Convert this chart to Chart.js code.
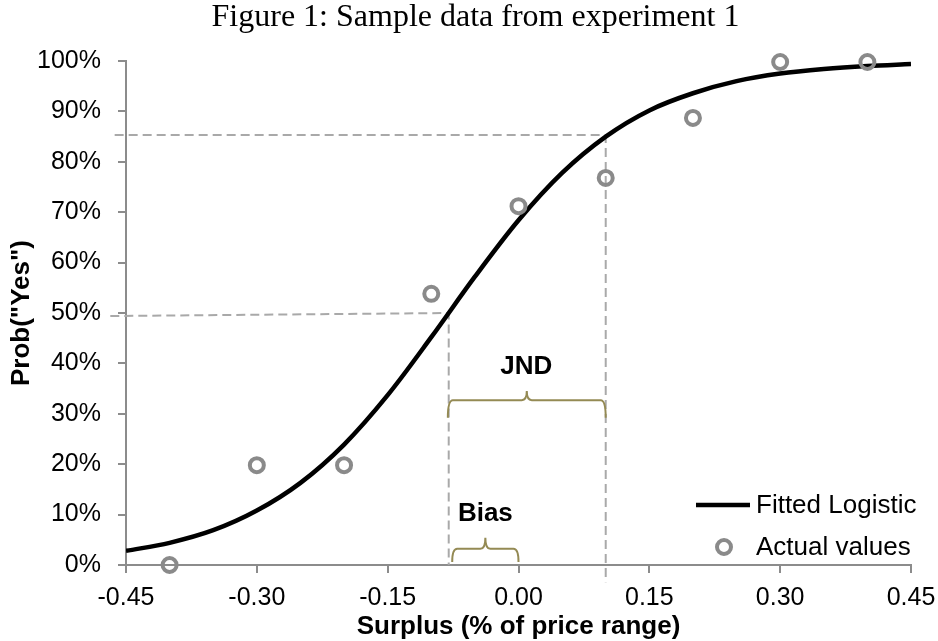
<!DOCTYPE html>
<html>
<head>
<meta charset="utf-8">
<script src="https://cdn.jsdelivr.net/npm/chart.js@4/dist/chart.umd.min.js"></script>
<style>
  html, body { margin: 0; padding: 0; background: #fff; overflow: hidden; }
  #wrap { position: relative; width: 938px; height: 641px; }
  #fig-title {
    position: absolute; left: 0; top: 0; width: 951px;
    text-align: center; font: 32px/30px "Liberation Serif", "Times New Roman", serif;
    color: #000; white-space: nowrap;
  }
  #chart { position: absolute; left: 0; top: 0; }
</style>
</head>
<body>
<div id="wrap">
  <canvas id="chart" width="938" height="641"></canvas>
  <div id="fig-title">Figure 1: Sample data from experiment 1</div>
</div>
<script>
// observed proportions
const POINTS_X = [-0.40, -0.30, -0.20, -0.10, 0.00, 0.10, 0.20, 0.30, 0.40];
const POINTS_Y = [0, 19.8, 19.8, 53.8, 71.2, 76.8, 88.7, 99.8, 99.8];

// fitted logistic
const CURVE_X = [-0.45, -0.40, -0.35, -0.30, -0.25, -0.20, -0.15, -0.10, -0.05, 0.00,
  0.05, 0.10, 0.15, 0.20, 0.25, 0.30, 0.35, 0.40, 0.45];
const CURVE_Y = [2.8, 4.4, 6.9, 10.8, 16.3, 23.9, 33.7, 45.2, 57.2, 68.4,
  77.8, 85.0, 90.2, 93.6, 96.0, 97.5, 98.4, 99.0, 99.4];

// dashed guides (50% point and 85% point)
const GUIDE50_X = [-0.468, -0.08, -0.08];
const GUIDE50_Y = [49.4, 50.0, 0];
const GUIDE85_X = [-0.463, 0.10, 0.10];
const GUIDE85_Y = [85.3, 85.3, -3.4];

// braces: [xStart, xEnd, yLine, yEnds, yTip]
const BRACE_JND = [-0.081, 0.100, 32.7, 29.2, 34.5];
const BRACE_BIAS = [-0.076, 0.000, 3.2, 0.6, 5.4];
const LABEL_JND = { text: "JND", x: 0.009, y: 39.3 };
const LABEL_BIAS = { text: "Bias", x: -0.038, y: 10.1 };

const X_TICKS = [-0.45, -0.30, -0.15, 0.00, 0.15, 0.30, 0.45];
const Y_TICKS = [0, 10, 20, 30, 40, 50, 60, 70, 80, 90, 100];

const AXIS_COLOR = "#8c8c8c";
const POINT_COLOR = "#8a8a8a";
const GUIDE_COLOR = "#a9a9a9";
const BRACE_COLOR = "#948a54";

Chart.defaults.font.family = '"Liberation Sans", Arial, sans-serif';
Chart.defaults.color = "#000";

function zip(xs, ys) {
  return xs.map((x, i) => ({ x, y: ys[i] }));
}

function drawBrace(ctx, chart, b) {
  const xs = chart.scales.x, ys = chart.scales.y;
  const x1 = xs.getPixelForValue(b[0]);
  const x2 = xs.getPixelForValue(b[1]);
  const xm = (x1 + x2) / 2;
  const yl = ys.getPixelForValue(b[2]);
  const ye = ys.getPixelForValue(b[3]);
  const yt = ys.getPixelForValue(b[4]);
  const r = 5;
  ctx.beginPath();
  ctx.moveTo(x1, ye);
  ctx.quadraticCurveTo(x1, yl, x1 + r, yl);
  ctx.lineTo(xm - r, yl);
  ctx.quadraticCurveTo(xm, yl, xm, yt);
  ctx.quadraticCurveTo(xm, yl, xm + r, yl);
  ctx.lineTo(x2 - r, yl);
  ctx.quadraticCurveTo(x2, yl, x2, ye);
  ctx.stroke();
}

const annotations = {
  id: "annotations",
  afterDatasetsDraw(chart) {
    const ctx = chart.ctx;
    ctx.save();
    ctx.strokeStyle = BRACE_COLOR;
    ctx.lineWidth = 2;
    drawBrace(ctx, chart, BRACE_JND);
    drawBrace(ctx, chart, BRACE_BIAS);

    ctx.fillStyle = "#000";
    ctx.font = 'bold 26px "Liberation Sans", Arial, sans-serif';
    ctx.textAlign = "center";
    ctx.textBaseline = "middle";
    [LABEL_JND, LABEL_BIAS].forEach((l) => {
      ctx.fillText(l.text, chart.scales.x.getPixelForValue(l.x), chart.scales.y.getPixelForValue(l.y));
    });

    // legend, bottom right inside the plot
    const a = chart.chartArea;
    const ly1 = a.bottom - 60;
    const ly2 = a.bottom - 18;
    ctx.strokeStyle = "#000";
    ctx.lineWidth = 4.5;
    ctx.beginPath();
    ctx.moveTo(a.right - 215, ly1);
    ctx.lineTo(a.right - 161, ly1);
    ctx.stroke();
    ctx.strokeStyle = POINT_COLOR;
    ctx.lineWidth = 4;
    ctx.beginPath();
    ctx.arc(a.right - 187, ly2, 7, 0, Math.PI * 2);
    ctx.stroke();
    ctx.font = '26px "Liberation Sans", Arial, sans-serif';
    ctx.textAlign = "left";
    ctx.fillText("Fitted Logistic", a.right - 155, ly1 + 1);
    ctx.fillText("Actual values", a.right - 155, ly2 + 1);
    ctx.restore();
  },
};

const ctx = document.getElementById("chart").getContext("2d");
new Chart(ctx, {
  type: "scatter",
  data: {
    datasets: [
      {
        label: "Actual values",
        data: zip(POINTS_X, POINTS_Y),
        pointRadius: 7,
        pointBorderWidth: 4,
        borderColor: POINT_COLOR,
        backgroundColor: "rgba(0,0,0,0)",
        clip: false,
        order: 0,
      },
      {
        label: "Fitted Logistic",
        data: zip(CURVE_X, CURVE_Y),
        showLine: true,
        pointRadius: 0,
        borderColor: "#000",
        borderWidth: 4.5,
        cubicInterpolationMode: "monotone",
        order: 1,
      },
      {
        label: "guide50",
        data: zip(GUIDE50_X, GUIDE50_Y),
        showLine: true,
        pointRadius: 0,
        borderColor: GUIDE_COLOR,
        borderWidth: 2,
        borderDash: [9, 5],
        clip: false,
        order: 2,
      },
      {
        label: "guide85",
        data: zip(GUIDE85_X, GUIDE85_Y),
        showLine: true,
        pointRadius: 0,
        borderColor: GUIDE_COLOR,
        borderWidth: 2,
        borderDash: [9, 5],
        clip: false,
        order: 2,
      },
    ],
  },
  options: {
    responsive: false,
    animation: false,
    layout: { padding: { top: 61, right: 27, left: 0, bottom: 0 } },
    plugins: {
      legend: { display: false },
      tooltip: { enabled: false },
      title: { display: false },
    },
    scales: {
      x: {
        type: "linear",
        min: -0.45,
        max: 0.45,
        afterBuildTicks: (s) => { s.ticks = X_TICKS.map((v) => ({ value: v })); },
        afterFit: (s) => {
          s.height = 76;
          s.paddingLeft = 0;
          s.paddingRight = 0;
        },
        ticks: {
          font: { size: 25 },
          color: "#000",
          padding: 10,
          maxRotation: 0,
          callback: (v) => Number(v).toFixed(2),
        },
        grid: {
          drawOnChartArea: false,
          drawTicks: true,
          tickLength: 8,
          color: AXIS_COLOR,
          lineWidth: 2,
        },
        border: { display: true, color: AXIS_COLOR, width: 2 },
        title: {
          display: true,
          text: "Surplus (% of price range)",
          font: { size: 26, weight: "bold", lineHeight: 1.1 },
          color: "#000",
          padding: { top: 0, bottom: 0 },
        },
      },
      y: {
        type: "linear",
        min: 0,
        max: 100,
        afterBuildTicks: (s) => { s.ticks = Y_TICKS.map((v) => ({ value: v })); },
        afterFit: (s) => {
          s.width = 126;
          s.paddingTop = 0;
          s.paddingBottom = 0;
        },
        ticks: {
          font: { size: 25 },
          color: "#000",
          padding: 17,
          callback: (v) => v + "%",
        },
        grid: {
          drawOnChartArea: false,
          drawTicks: true,
          tickLength: 8,
          color: AXIS_COLOR,
          lineWidth: 2,
        },
        border: { display: true, color: AXIS_COLOR, width: 2 },
        title: {
          display: true,
          text: 'Prob("Yes")',
          font: { size: 26, weight: "bold", lineHeight: 1.1 },
          color: "#000",
          padding: { top: 8, bottom: 0 },
        },
      },
    },
  },
  plugins: [annotations],
});
</script>
</body>
</html>
